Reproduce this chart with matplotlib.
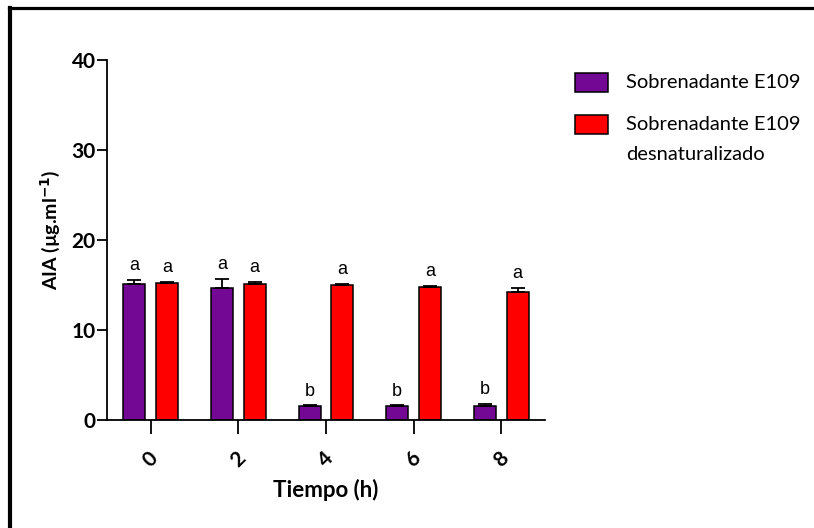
import matplotlib.pyplot as plt
from matplotlib.patches import Rectangle
from matplotlib.lines import Line2D
import numpy as np

# AIA por tiempo de incubacion
tiempos = ['0', '2', '4', '6', '8']
sobrenadante = [15.2, 14.7, 1.6, 1.6, 1.6]
sobrenadante_err = [0.4, 1.0, 0.08, 0.08, 0.25]
desnaturalizado = [15.3, 15.2, 15.0, 14.8, 14.3]
desnaturalizado_err = [0.12, 0.2, 0.15, 0.12, 0.45]
letras_sob = ['a', 'a', 'b', 'b', 'b']
letras_des = ['a', 'a', 'a', 'a', 'a']
series = ['Sobrenadante E109', 'Sobrenadante E109\ndesnaturalizado']

PURPURA = '#720894'
ROJO = '#ff0000'

fig = plt.figure(figsize=(8.14, 5.28), dpi=100)
ax = fig.add_axes([0.1314, 0.2036, 0.5381, 0.6828])

x = np.arange(len(tiempos))
w = 0.25
off = 0.187

for xs, vals, errs, col, letras in [
    (x - off, sobrenadante, sobrenadante_err, PURPURA, letras_sob),
    (x + off, desnaturalizado, desnaturalizado_err, ROJO, letras_des),
]:
    ax.bar(xs, vals, width=w, color=col, edgecolor='black', linewidth=1.1, zorder=2)
    ax.errorbar(xs, vals, yerr=[np.zeros(len(vals)), errs], fmt='none',
                ecolor='black', elinewidth=1.3, capsize=5, capthick=1.3, zorder=3)
    for xi, v, e, t in zip(xs, vals, errs, letras):
        ax.annotate(t, (xi, v + e), xytext=(0, 4), textcoords='offset points',
                    ha='center', va='bottom', fontsize=13,
                    family=['Liberation Sans Narrow', 'Liberation Sans'])

ax.set_xlim(-0.5, 4.5)
ax.set_ylim(0, 40)
ax.set_yticks([0, 10, 20, 30, 40])
ax.set_xticks(x)
ax.set_xticklabels(tiempos, rotation=45, ha='center', va='top',
                   fontsize=15, fontweight='bold', family='Lato')
for lab in ax.get_yticklabels():
    lab.set_fontsize(15)
    lab.set_fontweight('bold')
    lab.set_family('Lato')

ax.spines['top'].set_visible(False)
ax.spines['right'].set_visible(False)
for s in ('left', 'bottom'):
    ax.spines[s].set_linewidth(1.3)
ax.tick_params(axis='y', length=7, width=1.3, pad=1)
ax.tick_params(axis='x', length=10, width=1.3, pad=10)

ax.set_ylabel('AIA (µg.ml$^{\\mathbf{-1}}$)', fontsize=14, fontweight='bold',
              family='Lato')
ax.yaxis.set_label_coords(-0.102, 0.53)
ax.set_xlabel('Tiempo (h)', fontsize=16, fontweight='bold', family='Lato',
              labelpad=6)

# leyenda a la derecha
W, H = 814, 528
colores = [PURPURA, ROJO]
tops = [73, 115]
for col, top, txt in zip(colores, tops, series):
    fig.add_artist(Rectangle((575 / W, 1 - (top + 19) / H), 33 / W, 19 / H,
                             transform=fig.transFigure, facecolor=col,
                             edgecolor='black', linewidth=1.1))
    fig.text(626 / W, 1 - (top + 1) / H, txt, ha='left', va='top',
             fontsize=14.5, family='Lato', linespacing=1.95)

# marco
fig.add_artist(Line2D([10 / W, 10 / W], [0, 1 - 7.5 / H],
                      transform=fig.transFigure, color='black', linewidth=3))
fig.add_artist(Line2D([8.5 / W, 1], [1 - 7.5 / H, 1 - 7.5 / H],
                      transform=fig.transFigure, color='black', linewidth=2.3))

fig.savefig('out.png', dpi=100)
